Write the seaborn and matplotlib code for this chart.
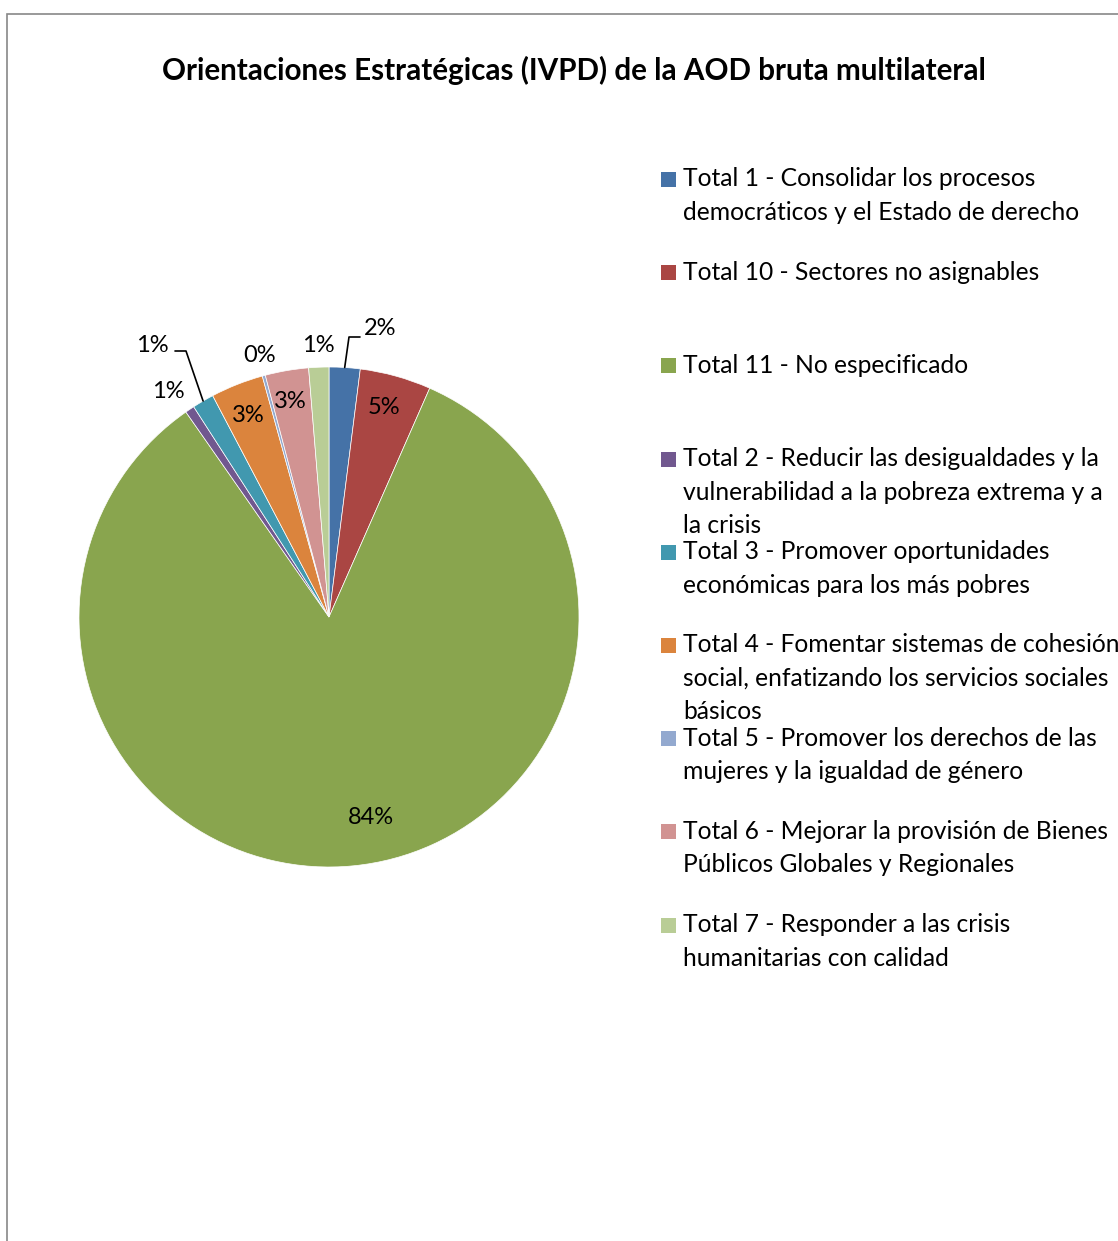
import matplotlib
matplotlib.use("Agg")
import matplotlib.pyplot as plt
import seaborn as sns
from matplotlib.patches import Rectangle
import numpy as np

# --- Data ---
labels = [
    "Total 1 - Consolidar los procesos\ndemocráticos y el Estado de derecho",
    "Total 10 - Sectores no asignables",
    "Total 11 - No especificado",
    "Total 2 - Reducir las desigualdades y la\nvulnerabilidad a la pobreza extrema y a\nla crisis",
    "Total 3 - Promover oportunidades\neconómicas para los más pobres",
    "Total 4 - Fomentar sistemas de cohesión\nsocial, enfatizando los servicios sociales\nbásicos",
    "Total 5 - Promover los derechos de las\nmujeres y la igualdad de género",
    "Total 6 - Mejorar la provisión de Bienes\nPúblicos Globales y Regionales",
    "Total 7 - Responder a las crisis\nhumanitarias con calidad",
]
shares = [2.0, 4.6, 83.7, 0.6, 1.4, 3.4, 0.2, 2.8, 1.3]
colors = ["#4572A7", "#AA4643", "#89A54E", "#71588F", "#4198AF",
          "#DB843D", "#93A9CF", "#D19392", "#B9CD96"]

title = "Orientaciones Estratégicas (IVPD) de la AOD bruta multilateral"

# --- Layout for the percent labels (data coords, radius = 1) ---
label_pos = [(0.204, 1.156), (0.22, 0.836), (0.168, -0.804), (-0.644, 0.90),
             (-0.708, 1.084), (-0.324, 0.808), (-0.276, 1.044), (-0.156, 0.86),
             (-0.044, 1.084)]
leaders = {0: [(0.08, 1.12), (0.124, 1.12)], 4: [(-0.572, 1.064), (-0.616, 1.064)]}

sns.set_theme(style="white")
plt.rcParams["font.family"] = ["Lato", "DejaVu Sans"]

W, H = 1118, 1241
fig = plt.figure(figsize=(W / 100, H / 100), dpi=100)

# chart border (clipped at right and bottom, like the source)
fig.patches.append(Rectangle((7 / W, -0.05), 1.2, (H - 14) / H + 0.05,
                             transform=fig.transFigure, fill=False,
                             edgecolor="#888888", linewidth=1.2))

fig.text(574 / W, 1 - 70 / H, title, ha="center", va="center",
         fontsize=21.3, fontweight="bold", color="black")

# --- Pie ---
cx, cy, r = 329, 617, 250
ax = fig.add_axes([(cx - r) / W, (H - cy - r) / H, 2 * r / W, 2 * r / H])
wedges, _ = ax.pie(shares, colors=colors, startangle=90, counterclock=False,
                   radius=1, wedgeprops=dict(linewidth=0.5, edgecolor="white"))
ax.set_xlim(-1, 1)
ax.set_ylim(-1, 1)
ax.set_aspect("equal")
ax.axis("off")

total = sum(shares)
for i, (w, v) in enumerate(zip(wedges, shares)):
    txt = f"{round(v / total * 100):.0f}%"
    x, y = label_pos[i]
    ax.text(x, y, txt, ha="center", va="center", fontsize=17, color="black",
            clip_on=False)
    if i in leaders:
        mid = np.deg2rad((w.theta1 + w.theta2) / 2)
        pts = [(np.cos(mid), np.sin(mid))] + leaders[i]
        xs, ys = zip(*pts)
        ax.plot(xs, ys, color="black", linewidth=1.2, clip_on=False)

# --- Legend (fixed spacing like the source) ---
y0, step = 179.5, 93.2
for i, (lab, c) in enumerate(zip(labels, colors)):
    yy = y0 + i * step
    fig.patches.append(Rectangle((661 / W, 1 - (yy + 7.5) / H), 15 / W, 15 / H,
                                 transform=fig.transFigure, facecolor=c,
                                 edgecolor="none"))
    fig.text(683 / W, 1 - (yy - 12) / H, lab, ha="left", va="top",
             fontsize=17.75, color="black", linespacing=1.55)

fig.savefig("out.png", dpi=100)
